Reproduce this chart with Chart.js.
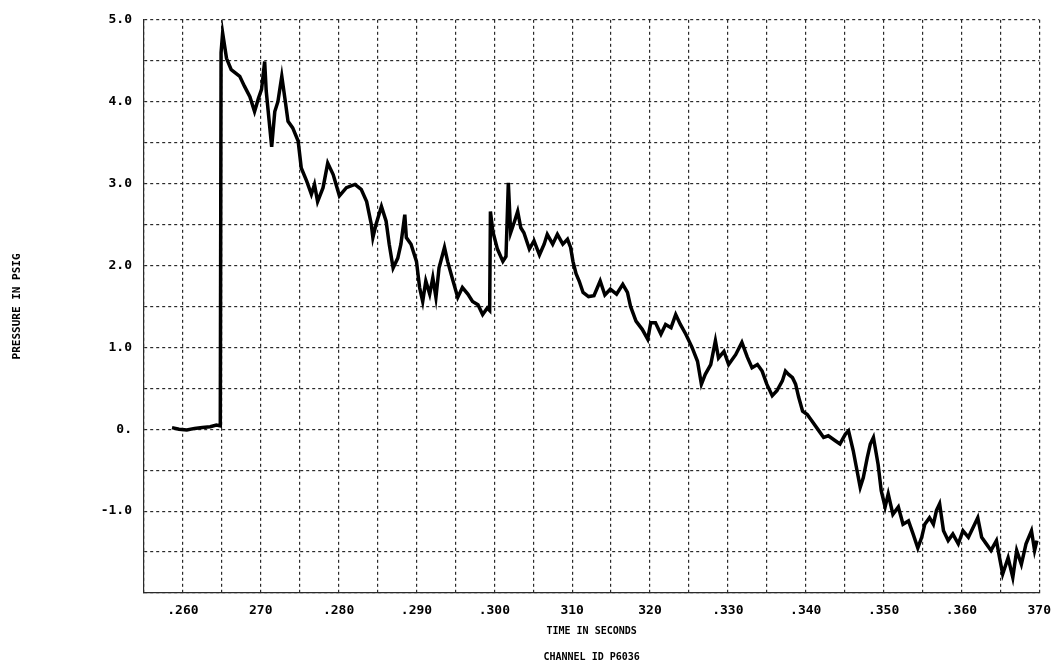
<!DOCTYPE html>
<html>
<head>
<meta charset="utf-8">
<script src="https://cdn.jsdelivr.net/npm/chart.js@4/dist/chart.umd.min.js"></script>
<style>
  html, body { margin: 0; padding: 0; background: #ffffff; }
  #wrap { width: 1061px; height: 670px; }
</style>
</head>
<body>
<div id="wrap"><canvas id="c" width="1061" height="670"></canvas></div>
<script>
// ---- data ----
const times = [
  0.2586, 0.2595, 0.2605, 0.2615, 0.2625, 0.2635, 0.2643, 0.2648, 0.2649, 0.2651,
  0.2656, 0.2662, 0.2673, 0.2679, 0.2686, 0.2692, 0.2697, 0.2701, 0.2705, 0.2707,
  0.2714, 0.2718, 0.2722, 0.2727, 0.2731, 0.2735, 0.2741, 0.2748, 0.2752, 0.2759,
  0.2765, 0.2769, 0.2773, 0.2780, 0.2786, 0.2793, 0.2801, 0.2810, 0.2821, 0.2829,
  0.2836, 0.2842, 0.2844, 0.2848, 0.2855, 0.2861, 0.2865, 0.2870, 0.2876, 0.2880,
  0.2885, 0.2887, 0.2893, 0.2900, 0.2904, 0.2908, 0.2912, 0.2917, 0.2921, 0.2925,
  0.2929, 0.2936, 0.2940, 0.2947, 0.2953, 0.2959, 0.2966, 0.2972, 0.2979, 0.2985,
  0.2991, 0.2994, 0.2995, 0.2998, 0.3004, 0.3011, 0.3015, 0.3018, 0.3021, 0.3026,
  0.3030, 0.3034, 0.3038, 0.3045, 0.3051, 0.3058, 0.3064, 0.3068, 0.3075, 0.3081,
  0.3088, 0.3094, 0.3098, 0.3101, 0.3105, 0.3109, 0.3114, 0.3121, 0.3128, 0.3136,
  0.3142, 0.3149, 0.3157, 0.3165, 0.3171, 0.3175, 0.3182, 0.3190, 0.3197, 0.3201,
  0.3207, 0.3214, 0.3220, 0.3227, 0.3233, 0.3239, 0.3246, 0.3254, 0.3261, 0.3266,
  0.3271, 0.3278, 0.3284, 0.3288, 0.3295, 0.3301, 0.3310, 0.3318, 0.3325, 0.3331,
  0.3338, 0.3344, 0.3350, 0.3357, 0.3363, 0.3370, 0.3374, 0.3378, 0.3383, 0.3387,
  0.3391, 0.3396, 0.3402, 0.3408, 0.3417, 0.3423, 0.3429, 0.3438, 0.3444, 0.3451,
  0.3455, 0.3461, 0.3466, 0.3470, 0.3474, 0.3479, 0.3483, 0.3487, 0.3493, 0.3497,
  0.3502, 0.3506, 0.3512, 0.3519, 0.3525, 0.3532, 0.3538, 0.3544, 0.3549, 0.3553,
  0.3559, 0.3564, 0.3568, 0.3572, 0.3577, 0.3583, 0.3589, 0.3596, 0.3602, 0.3609,
  0.3615, 0.3621, 0.3626, 0.3632, 0.3638, 0.3645, 0.3649, 0.3653, 0.3660, 0.3666,
  0.3671, 0.3677, 0.3683, 0.3690, 0.3694, 0.3697
];
const pressures = [
  0.02, 0.00, -0.01, 0.01, 0.02, 0.03, 0.05, 0.04, 4.60, 4.84,
  4.53, 4.39, 4.31, 4.19, 4.06, 3.88, 4.04, 4.15, 4.49, 4.13,
  3.45, 3.88, 4.00, 4.31, 4.04, 3.76, 3.68, 3.52, 3.19, 3.03,
  2.87, 2.99, 2.78, 2.95, 3.25, 3.11, 2.85, 2.95, 2.99, 2.93,
  2.78, 2.50, 2.34, 2.50, 2.72, 2.54, 2.26, 1.97, 2.09, 2.26,
  2.62, 2.34, 2.26, 2.05, 1.73, 1.56, 1.81, 1.65, 1.85, 1.61,
  1.97, 2.22, 2.05, 1.81, 1.61, 1.73, 1.65, 1.56, 1.52, 1.40,
  1.48, 1.45, 2.66, 2.42, 2.20, 2.05, 2.11, 3.01, 2.40, 2.54,
  2.66, 2.46, 2.40, 2.20, 2.30, 2.13, 2.26, 2.38, 2.26, 2.38,
  2.26, 2.32, 2.22, 2.05, 1.90, 1.81, 1.67, 1.62, 1.63, 1.81,
  1.64, 1.71, 1.65, 1.77, 1.67, 1.50, 1.32, 1.22, 1.10, 1.30,
  1.30, 1.16, 1.28, 1.24, 1.40, 1.28, 1.16, 1.00, 0.83, 0.55,
  0.67, 0.79, 1.08, 0.87, 0.95, 0.79, 0.91, 1.06, 0.88, 0.75,
  0.79, 0.71, 0.55, 0.41, 0.47, 0.59, 0.71, 0.67, 0.63, 0.55,
  0.39, 0.22, 0.18, 0.10, -0.02, -0.10, -0.08, -0.14, -0.18, -0.06,
  -0.02, -0.26, -0.51, -0.71, -0.59, -0.35, -0.18, -0.10, -0.43, -0.75,
  -0.95, -0.79, -1.04, -0.95, -1.16, -1.12, -1.28, -1.45, -1.32, -1.16,
  -1.08, -1.16, -0.99, -0.91, -1.24, -1.36, -1.28, -1.40, -1.24, -1.32,
  -1.20, -1.08, -1.32, -1.40, -1.48, -1.36, -1.57, -1.77, -1.57, -1.81,
  -1.48, -1.65, -1.40, -1.24, -1.48, -1.36
];
const xTickValues = [0.260, 0.270, 0.280, 0.290, 0.300, 0.310, 0.320, 0.330, 0.340, 0.350, 0.360, 0.370];
const xTickLabels = [".260", "270", ".280", ".290", ".300", "310", "320", ".330", ".340", ".350", ".360", "370"];
const yTickValues = [5, 4, 3, 2, 1, 0, -1];
const yTickLabels = ["5.0", "4.0", "3.0", "2.0", "1.0", "0.", "-1.0"];
const xTitle = ["TIME IN SECONDS", "CHANNEL ID P6036"];
const yTitle = "PRESSURE IN PSIG";

const points = times.map((t, i) => ({ x: t, y: pressures[i] }));

function lookup(values, labels, v) {
  for (let i = 0; i < values.length; i++) {
    if (Math.abs(values[i] - v) < 1e-6) return labels[i];
  }
  return '';
}

const FONT = "'DejaVu Sans Mono', monospace";
const gridStyle = { color: '#2a2a2a', lineWidth: 1.2, drawTicks: false };
const borderStyle = { display: true, color: '#2a2a2a', width: 1.2, dash: [3, 3] };

new Chart(document.getElementById('c'), {
  type: 'line',
  data: {
    datasets: [{
      data: points,
      borderColor: '#000000',
      borderWidth: 3.5,
      pointRadius: 0,
      tension: 0,
      fill: false
    }]
  },
  options: {
    responsive: false,
    animation: false,
    devicePixelRatio: 1,
    layout: { padding: { left: 0, top: 15, right: 21, bottom: 0 } },
    plugins: { legend: { display: false }, tooltip: { enabled: false } },
    scales: {
      x: {
        type: 'linear',
        min: 0.255,
        max: 0.370,
        afterFit: (s) => { s.height = 77; },
        grid: gridStyle,
        border: borderStyle,
        ticks: {
          stepSize: 0.005,
          autoSkip: false,
          maxRotation: 0,
          padding: 10,
          color: '#000',
          font: { family: FONT, size: 13, weight: 'bold' },
          callback: (v) => lookup(xTickValues, xTickLabels, v)
        },
        title: {
          display: true,
          text: xTitle,
          color: '#000',
          font: { family: FONT, size: 10, weight: 'bold', lineHeight: 2.6 },
          padding: { top: 0, bottom: 0 }
        }
      },
      y: {
        type: 'linear',
        min: -2,
        max: 5,
        afterFit: (s) => { s.width = 144; },
        grid: gridStyle,
        border: borderStyle,
        ticks: {
          stepSize: 0.5,
          autoSkip: false,
          padding: 12,
          color: '#000',
          font: { family: FONT, size: 13, weight: 'bold' },
          callback: (v) => lookup(yTickValues, yTickLabels, v)
        },
        title: {
          display: true,
          text: yTitle,
          color: '#000',
          font: { family: FONT, size: 11, weight: 'bold', lineHeight: 1.2 },
          padding: { top: 11, bottom: 0 }
        }
      }
    }
  }
});
</script>
</body>
</html>
